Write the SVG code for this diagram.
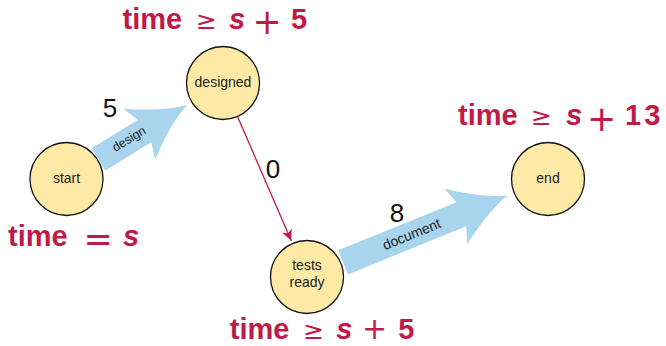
<svg xmlns="http://www.w3.org/2000/svg" width="666" height="346" viewBox="0 0 666 346">
<style>
.node circle{fill:#FFE9A6;stroke:#111;stroke-width:1.3}
.node text{font-family:"Liberation Sans",Arial,sans-serif;font-size:14px;fill:#222;text-anchor:middle}
.big{font-family:"Liberation Sans",Arial,sans-serif;font-weight:bold;font-size:29px;fill:#BF1B49}
.big .m{font-style:italic}
.big .r{font-family:"DejaVu Sans",sans-serif;font-weight:normal;font-size:25px}
.big .o{font-family:"DejaVu Sans",sans-serif;font-weight:normal;font-size:35px}
.big .ob{font-family:"DejaVu Sans",sans-serif;font-weight:normal;font-size:30px}
.fat{fill:#A9D4EE}
.albl{font-family:"Liberation Sans",Arial,sans-serif;fill:#222;text-anchor:middle}
.num{font-family:"Liberation Sans",Arial,sans-serif;font-size:26px;fill:#111;text-anchor:middle}
.red{stroke:#BF1B49;stroke-width:1.3;fill:none}
</style>
<defs>
<marker id="ah" viewBox="-12 -6 13 12" refX="0" refY="0" markerWidth="13" markerHeight="12" markerUnits="userSpaceOnUse" orient="auto">
<path d="M0,0 L-11,-5.2 L-8,0 L-11,5.2 Z" fill="#BF1B49"/>
</marker>
</defs>
<g id="connectors">
<g id="e-design">
<path class="fat" transform="translate(187.1,105) rotate(-31.53)" d="M-104,-13 L-50,-13 L-56,-30 Q-24,-7 0,0 Q-24,7 -56,30 L-50,13 L-104,13 Z"/>
<text class="albl" font-size="12.5" transform="translate(129,139) rotate(-31.53)" y="4">design</text>
<text class="num" x="110" y="117">5</text>
</g>
<g id="e-zero">
<line class="red" x1="237.7" y1="117" x2="291.3" y2="240.7" marker-end="url(#ah)"/>
<text class="num" x="273" y="178">0</text>
</g>
<g id="e-document">
<path class="fat" transform="translate(507.7,195.4) rotate(-22.13)" d="M-177.7,-13 L-50,-13 L-56,-30 Q-24,-7 0,0 Q-24,7 -56,30 L-50,13 L-177.7,13 Z"/>
<text class="albl" font-size="14" transform="translate(411.7,234.5) rotate(-22.13)" y="4.5">document</text>
<text class="num" x="397" y="221.5">8</text>
</g>
</g>
<g id="start" class="node">
<circle cx="66.5" cy="179" r="36.5"/>
<text x="66.5" y="183">start</text>
</g>
<g id="designed" class="node">
<circle cx="223" cy="83" r="36.5"/>
<text x="223" y="87">designed</text>
</g>
<g id="tests" class="node">
<circle cx="307" cy="277" r="36.5"/>
<text x="307" y="270">tests</text>
<text x="307" y="287">ready</text>
</g>
<g id="end" class="node">
<circle cx="548" cy="179" r="36.5"/>
<text x="548" y="183">end</text>
</g>
<g id="labels">
<text class="big"><tspan x="122.5" y="28.5">time</tspan><tspan class="r" x="196" y="28.5">≥</tspan><tspan class="m" x="229" y="28.5">s</tspan><tspan class="o" x="252.4" y="34">+</tspan><tspan x="291" y="28.5">5</tspan></text>
<text class="big"><tspan x="8" y="246">time</tspan><tspan class="o" x="83.4" y="251.3">=</tspan><tspan class="m" x="123" y="246">s</tspan></text>
<text class="big"><tspan x="229.8" y="338.5">time</tspan><tspan class="r" x="303.3" y="338.5">≥</tspan><tspan class="m" x="336.3" y="338.5">s</tspan><tspan class="ob" x="362" y="338.5">+</tspan><tspan x="398.3" y="338.5">5</tspan></text>
<text class="big"><tspan x="458" y="125">time</tspan><tspan class="r" x="531" y="125">≥</tspan><tspan class="m" x="566" y="125">s</tspan><tspan class="o" x="587" y="130.5">+</tspan><tspan x="625" y="125" letter-spacing="3">13</tspan></text>
</g>
</svg>
